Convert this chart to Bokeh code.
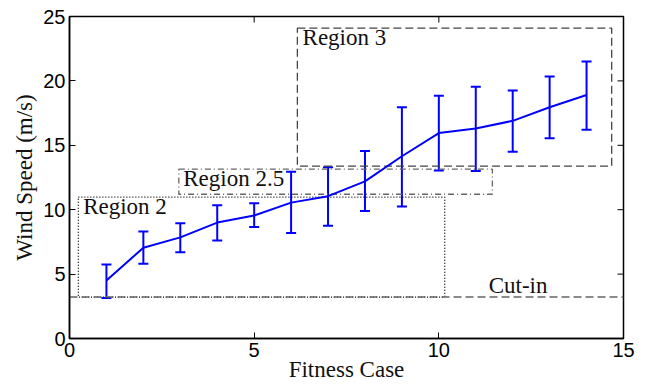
from bokeh.plotting import figure
from bokeh.models import ColumnDataSource, Whisker, Label, Range1d, FixedTicker
from bokeh.embed import file_html
from bokeh.resources import INLINE

# ---- data ----
fitness_case = [1, 2, 3, 4, 5, 6, 7, 8, 9, 10, 11, 12, 13, 14]
wind_mean = [4.5, 7.05, 7.85, 9.0, 9.55, 10.55, 11.05, 12.2, 14.15, 15.95, 16.3, 16.9, 17.95, 18.9]
wind_upper = [5.75, 8.3, 8.95, 10.35, 10.5, 12.95, 13.3, 14.55, 17.95, 18.85, 19.55, 19.25, 20.35, 21.5]
wind_lower = [3.15, 5.8, 6.7, 7.6, 8.65, 8.2, 8.75, 9.9, 10.25, 13.05, 13.0, 14.5, 15.55, 16.2]

region_names = ["Region 2", "Region 2.5", "Region 3"]
region_left = [0.24, 2.96, 6.17]
region_right = [10.16, 11.45, 14.68]
region_bottom = [3.22, 11.2, 13.38]
region_top = [10.98, 13.15, 24.1]
cut_in = 3.22
cut_in_label = "Cut-in"

x_ticks = [0, 5, 10, 15]
y_ticks = [0, 5, 10, 15, 20, 25]
x_label = "Fitness Case"
y_label = "Wind Speed (m/s)"

SERIF = "Liberation Serif"
SANS = "Liberation Sans"
SERIF_SIZE = "23px"
X0, X1, Y0, Y1 = 0, 15, 0, 25

p = figure(width=649, height=384, output_backend="svg", toolbar_location=None,
           x_range=Range1d(X0, X1), y_range=Range1d(Y0, Y1),
           min_border_left=69, min_border_right=26, min_border_top=16, min_border_bottom=46,
           background_fill_color="white", border_fill_color="white")
p.grid.visible = False
p.outline_line_color = "black"
p.outline_line_width = 1.5

xax = p.below[0]
yax = p.left[0]
xax.ticker = FixedTicker(ticks=x_ticks)
yax.ticker = FixedTicker(ticks=y_ticks)

for ax in [xax, yax]:
    ax.major_tick_in = 6
    ax.major_tick_out = 0
    ax.minor_tick_in = 0
    ax.minor_tick_out = 0
    ax.axis_line_color = "black"
    ax.axis_line_width = 1.5
    ax.major_tick_line_width = 1
    ax.major_label_text_font = SANS
    ax.major_label_text_font_size = "20px"
    ax.major_label_text_color = "black"
    ax.axis_label_text_font = SERIF
    ax.axis_label_text_font_size = SERIF_SIZE
    ax.axis_label_text_font_style = "normal"
    ax.axis_label_text_color = "#111111"

xax.major_label_standoff = 4
xax.axis_label = x_label
xax.axis_label_standoff = -3
yax.major_label_standoff = 4
yax.axis_label = y_label
yax.axis_label_standoff = 3

# inward ticks on the top and right edges of the box
tick_dx = 6 / 554 * (X1 - X0)
tick_dy = 6 / 322 * (Y1 - Y0)
p.segment(x0=x_ticks, x1=x_ticks, y0=[Y1] * len(x_ticks), y1=[Y1 - tick_dy] * len(x_ticks),
          line_color="black", line_width=1)
p.segment(x0=[X1] * len(y_ticks), x1=[X1 - tick_dx] * len(y_ticks), y0=y_ticks, y1=y_ticks,
          line_color="black", line_width=1)

# regions
styles = [("#000000", "1 2"), ("#666666", "6 3 1 3"), ("#444444", "8 4")]
for i, (col, dash) in enumerate(styles):
    p.quad(left=[region_left[i]], right=[region_right[i]], bottom=[region_bottom[i]], top=[region_top[i]],
           fill_color=None, line_color=col, line_dash=dash, line_width=1.3)

p.line([X0, X1], [cut_in, cut_in], line_color="#666666", line_dash="8 4", line_width=1.4)

# series
src = ColumnDataSource(dict(x=fitness_case, y=wind_mean, upper=wind_upper, lower=wind_lower))
p.line("x", "y", source=src, line_color="#0000FF", line_width=2)
w = Whisker(base="x", upper="upper", lower="lower", source=src, line_color="#0000FF", line_width=2)
for h in (w.upper_head, w.lower_head):
    h.size = 10
    h.line_color = "#0000FF"
    h.line_width = 2
p.add_layout(w)

# texts
text_pos = [(0.37, 10.25), (3.08, 12.43), (6.31, 23.4)]
for name, (tx, ty) in zip(region_names, text_pos):
    p.add_layout(Label(x=tx, y=ty, text=name, text_font=SERIF, text_font_size=SERIF_SIZE,
                       text_color="#111111", text_baseline="alphabetic", text_align="left"))
p.add_layout(Label(x=11.35, y=4.15, text=cut_in_label, text_font=SERIF, text_font_size=SERIF_SIZE,
                   text_color="#111111", text_baseline="alphabetic", text_align="left"))

open("out.html", "w").write(file_html(p, INLINE))
